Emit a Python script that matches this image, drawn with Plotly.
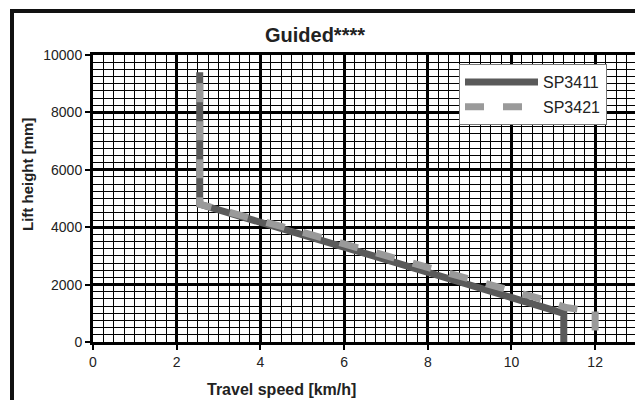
import plotly.graph_objects as go

# Data
sp3411_speed = [2.55, 2.55, 6.7, 11.25, 11.25]
sp3411_lift = [9400, 4800, 3000, 1000, 0]

# SP3421 listed from its low end (12 km/h) up to the vertical at 2.55 km/h
sp3421_speed = [12.0, 12.0, 11.8, 11.3, 10.7, 7.1, 4.45, 2.55, 2.55]
sp3421_lift = [400, 1100, 1100, 1200, 1500, 3000, 4050, 4800, 9400]

x_ticks = [0, 2, 4, 6, 8, 10, 12]
y_ticks = [0, 2000, 4000, 6000, 8000, 10000]

FONT = "Liberation Sans, Arial, sans-serif"
OFF = 8  # page body margin in the browser

fig = go.Figure()
fig.add_trace(go.Scatter(
    x=sp3411_speed, y=sp3411_lift, mode="lines", name="SP3411",
    legendgroup="a",
    line=dict(color="#5a5a5a", width=7),
))
fig.add_trace(go.Scatter(
    x=sp3421_speed, y=sp3421_lift, mode="lines", name="SP3421",
    legendgroup="b",
    line=dict(color="#9a9a9a", width=7, dash="19px,19px"),
))

axis_common = dict(
    showline=True, linecolor="black", linewidth=3, mirror=True,
    showgrid=True, gridcolor="black", gridwidth=3,
    zeroline=False,
    ticks="outside", ticklen=5, tickwidth=2, tickcolor="black",
    tickfont=dict(family=FONT, size=14, color="#222"),
    ticklabelstandoff=0,
)

fig.update_xaxes(
    range=[0, 13], tickvals=x_ticks, ticktext=[str(v) for v in x_ticks],
    minor=dict(dtick=0.25, showgrid=True, gridcolor="black", gridwidth=1, ticks=""),
    **axis_common,
)
fig.update_yaxes(
    range=[0, 10000], tickvals=y_ticks, ticktext=[str(v) for v in y_ticks],
    minor=dict(dtick=250, showgrid=True, gridcolor="black", gridwidth=1, ticks=""),
    **axis_common,
)

W, H = 643 - OFF, 400 - OFF
L = 93 - OFF
T = 55 - OFF
R = W - (637 - OFF)
B = H - (342 - OFF)
pw, ph = W - L - R, H - T - B


def px(xs):
    return (xs - OFF - L) / pw


def py(ys):
    return (H - B - (ys - OFF)) / ph


fig.update_layout(
    width=W, height=H,
    margin=dict(l=L, r=R, t=T, b=B, autoexpand=False),
    paper_bgcolor="white", plot_bgcolor="white",
    title=dict(text="<b>Guided****</b>", x=(315 - OFF) / W, xanchor="center",
               y=1 - (35 - OFF) / H, yanchor="middle",
               font=dict(family=FONT, size=20, color="#222")),
    showlegend=True,
    legend=dict(
        x=px(459), y=py(64), xanchor="left", yanchor="top",
        bgcolor="white", bordercolor="#777", borderwidth=1,
        font=dict(family=FONT, size=16, color="#222"),
        itemwidth=73, traceorder="grouped", tracegroupgap=1,
    ),
    annotations=[
        dict(text="<b>Travel speed [km/h]</b>", xref="paper", yref="paper",
             x=px(281), y=py(389), xanchor="center", yanchor="middle",
             showarrow=False, font=dict(family=FONT, size=16, color="#222")),
        dict(text="<b>Lift height [mm]</b>", xref="paper", yref="paper",
             x=px(27), y=py(175), xanchor="center", yanchor="middle",
             textangle=-90, showarrow=False,
             font=dict(family=FONT, size=15, color="#222")),
    ],
    shapes=[
        dict(type="line", xref="paper", yref="paper",
             x0=px(10), x1=px(643), y0=py(11), y1=py(11),
             line=dict(color="#111", width=4)),
        dict(type="line", xref="paper", yref="paper",
             x0=px(12), x1=px(12), y0=py(9), y1=py(402),
             line=dict(color="#111", width=4)),
        dict(type="line", xref="paper", yref="paper",
             x0=px(641.5), x1=px(641.5), y0=py(9), y1=py(402),
             line=dict(color="#111", width=2)),
    ],
)

fig.write_html("out.html")
